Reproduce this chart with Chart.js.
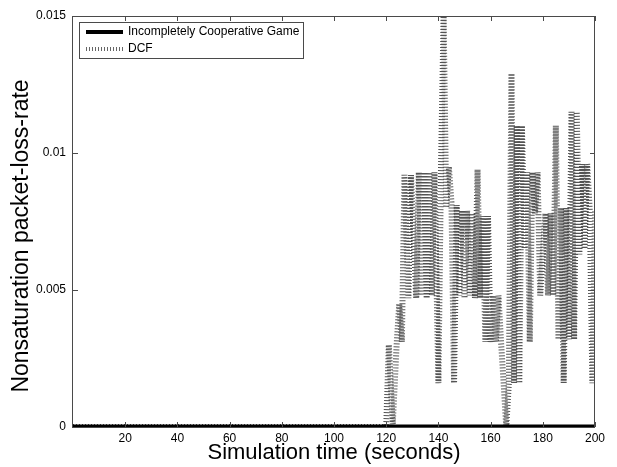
<!DOCTYPE html>
<html>
<head>
<meta charset="utf-8">
<script src="https://cdn.jsdelivr.net/npm/chart.js@4.4.1/dist/chart.umd.min.js"></script>
<style>
    html, body { margin: 0; padding: 0; background: #fff; }
</style>
</head>
<body>
<canvas id="lossChart" width="617" height="467"></canvas>
<script>
// --- data ---
const seriesNames = ['Incompletely Cooperative Game', 'DCF'];

// Incompletely Cooperative Game stays at zero the whole run
const icgTime = [0, 200];
const icgRate = [0, 0];

// DCF: zero until ~120 s, then jumps around
const dcfTime = [
    0, 120, 121, 122.5, 124, 125, 126, 127, 128.5, 129.5, 131.5,
    132.5, 133.5, 134.5, 135.5, 136.5, 137.5, 138.5, 140, 141, 142, 143, 144, 145,
    146, 147, 148, 149, 150, 151, 152, 153, 154, 155, 156, 157, 158, 159, 160,
    161, 162, 163, 164, 165, 166, 167, 168, 169, 170, 171, 172, 173, 174, 175,
    176, 177, 178, 179, 180, 181, 182, 183, 184, 185, 186, 187, 188, 189, 190,
    191, 192, 193, 194, 195, 196, 197, 198, 199, 200
];
const dcfRate = [
    0, 0, 0.0030, 0.0001, 0.0030, 0.0045, 0.0031, 0.0092, 0.0047, 0.0092, 0.0047,
    0.0093, 0.0048, 0.0093, 0.0047, 0.0093, 0.0048, 0.0093, 0.0016, 0.0095, 0.0150, 0.0080, 0.0095, 0.0082, 0.0016,
    0.0081, 0.0048, 0.0079, 0.0047, 0.0079, 0.0048, 0.0078, 0.0047, 0.0094, 0.0047, 0.0077, 0.0031, 0.0077, 0.0031, 0.0048,
    0.0031, 0.0048, 0.0031, 0.0016, 0, 0.0016, 0.0129, 0.0016, 0.0110, 0.0016, 0.0110, 0.0065, 0.0093, 0.0031, 0.0093,
    0.0078, 0.0093, 0.0048, 0.0063, 0.0078, 0.0048, 0.0078, 0.0048, 0.0110, 0.0032, 0.0080, 0.0016, 0.0080, 0.0032, 0.0115,
    0.0032, 0.0115, 0.0063, 0.0096, 0.0065, 0.0096, 0.0079, 0.0016, 0.0079, 0.0079
];

const xTicks = [20, 40, 60, 80, 100, 120, 140, 160, 180, 200];
const yTicks = [0, 0.005, 0.01, 0.015];

const FONT = '"Liberation Sans", Arial, sans-serif';

function toPoints(xs, ys) {
    return xs.map((x, i) => ({ x: x, y: ys[i] }));
}

// box, inward ticks, y label and legend like the matlab figure
const matlabFrame = {
    id: 'matlabFrame',
    afterDraw(chart) {
        const ctx = chart.ctx;
        const a = chart.chartArea;
        const xs = chart.scales.x;
        const ys = chart.scales.y;
        const tl = 5;

        ctx.save();
        ctx.strokeStyle = '#4a4a4a';
        ctx.lineWidth = 1;
        ctx.strokeRect(a.left - 0.5, a.top + 0.5, a.right - a.left, a.bottom - a.top);

        ctx.beginPath();
        xTicks.forEach(v => {
            const px = Math.round(xs.getPixelForValue(v)) + 0.5;
            ctx.moveTo(px, a.bottom);
            ctx.lineTo(px, a.bottom - tl);
            ctx.moveTo(px, a.top);
            ctx.lineTo(px, a.top + tl);
        });
        yTicks.forEach(v => {
            const py = Math.round(ys.getPixelForValue(v)) + 0.5;
            ctx.moveTo(a.left, py);
            ctx.lineTo(a.left + tl, py);
            ctx.moveTo(a.right, py);
            ctx.lineTo(a.right - tl, py);
        });
        ctx.stroke();

        // y axis title (sits a bit below the axes centre in the original)
        ctx.save();
        ctx.translate(22, 236);
        ctx.rotate(-Math.PI / 2);
        ctx.fillStyle = '#000';
        ctx.font = '23px ' + FONT;
        ctx.textAlign = 'center';
        ctx.textBaseline = 'middle';
        ctx.fillText('Nonsaturation packet-loss-rate', 0, 0);
        ctx.restore();

        // legend
        const lx = a.left + 6, ly = a.top + 6, lw = 224, lh = 36;
        ctx.fillStyle = '#fff';
        ctx.fillRect(lx, ly, lw, lh);
        ctx.strokeStyle = '#4a4a4a';
        ctx.strokeRect(lx + 0.5, ly + 0.5, lw, lh);

        ctx.beginPath();
        ctx.strokeStyle = '#000';
        ctx.lineWidth = 4;
        ctx.moveTo(lx + 7, ly + 10);
        ctx.lineTo(lx + 44, ly + 10);
        ctx.stroke();

        ctx.beginPath();
        ctx.strokeStyle = '#666';
        ctx.lineWidth = 4;
        ctx.setLineDash([1, 2]);
        ctx.moveTo(lx + 7, ly + 27);
        ctx.lineTo(lx + 44, ly + 27);
        ctx.stroke();
        ctx.setLineDash([]);

        ctx.fillStyle = '#000';
        ctx.font = '12px ' + FONT;
        ctx.textBaseline = 'middle';
        ctx.fillText(seriesNames[0], lx + 49, ly + 10);
        ctx.fillText(seriesNames[1], lx + 49, ly + 27);
        ctx.restore();
    }
};

const ctx = document.getElementById('lossChart').getContext('2d');

new Chart(ctx, {
    type: 'line',
    data: {
        datasets: [{
            label: seriesNames[0],
            data: toPoints(icgTime, icgRate),
            borderColor: '#000',
            borderWidth: 5,
            pointRadius: 0,
            tension: 0
        }, {
            label: seriesNames[1],
            data: toPoints(dcfTime, dcfRate),
            borderColor: 'rgba(40, 40, 40, 0.8)',
            borderWidth: 6,
            borderDash: [1, 2],
            borderCapStyle: 'butt',
            borderJoinStyle: 'miter',
            pointRadius: 0,
            tension: 0
        }]
    },
    plugins: [matlabFrame],
    options: {
        responsive: false,
        animation: false,
        layout: {
            padding: { top: 16, right: 22, left: 0, bottom: 0 }
        },
        plugins: {
            legend: { display: false },
            tooltip: { enabled: false }
        },
        scales: {
            x: {
                type: 'linear',
                min: 0,
                max: 200,
                afterBuildTicks: scale => { scale.ticks = xTicks.map(v => ({ value: v })); },
                afterFit: scale => { scale.height = 40; },
                grid: { display: false, drawTicks: false },
                border: { display: false },
                ticks: {
                    color: '#000',
                    font: { family: FONT, size: 12 },
                    padding: 4,
                    maxRotation: 0,
                    autoSkip: false
                },
                title: {
                    display: true,
                    text: 'Simulation time (seconds)',
                    color: '#000',
                    font: { family: FONT, size: 22 },
                    padding: { top: 0, bottom: 1 }
                }
            },
            y: {
                type: 'linear',
                min: 0,
                max: 0.015,
                afterBuildTicks: scale => { scale.ticks = yTicks.map(v => ({ value: v })); },
                afterFit: scale => { scale.width = 73; },
                grid: { display: false, drawTicks: false },
                border: { display: false },
                ticks: {
                    color: '#000',
                    font: { family: FONT, size: 12 },
                    padding: 7,
                    callback: v => String(v)
                }
            }
        }
    }
});
</script>
</body>
</html>
